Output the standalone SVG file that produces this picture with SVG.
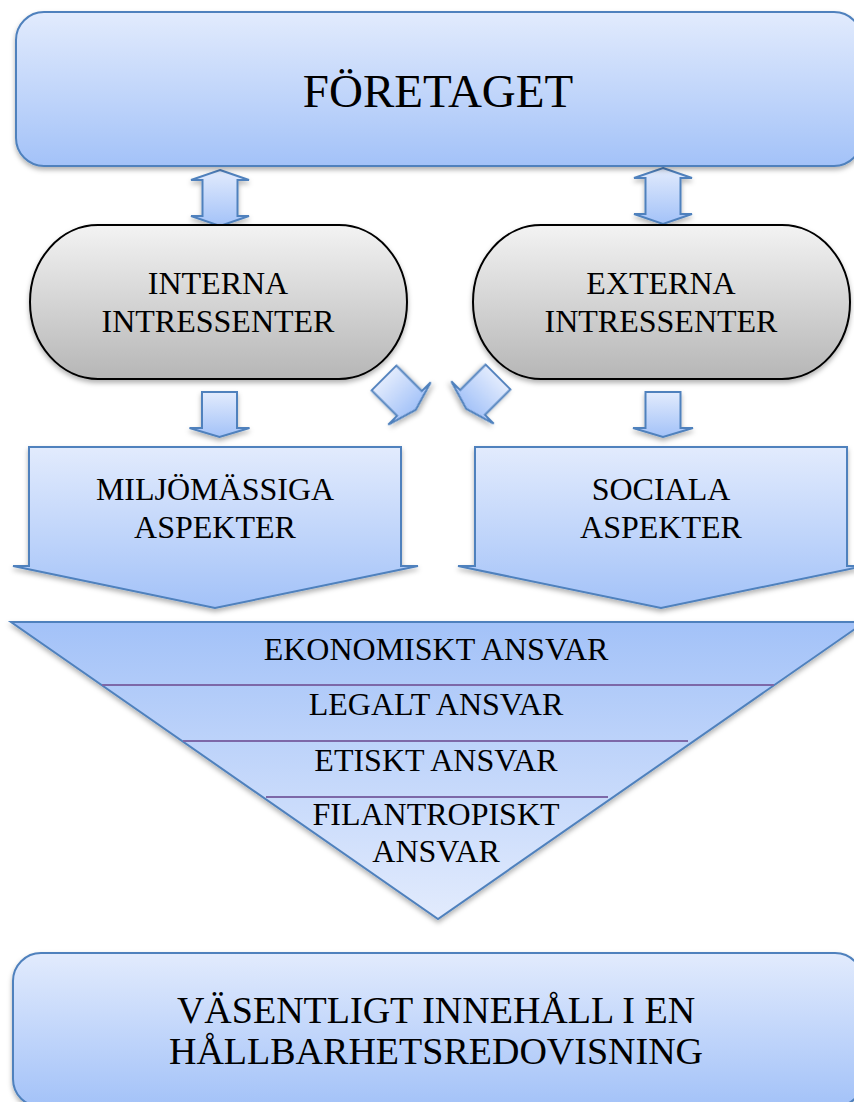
<svg xmlns="http://www.w3.org/2000/svg" width="854" height="1102" viewBox="0 0 854 1102">
  <defs>
    <linearGradient id="gBlue" x1="0" y1="0" x2="0" y2="1">
      <stop offset="0" stop-color="#e2ebfd"/>
      <stop offset="1" stop-color="#a3c2f8"/>
    </linearGradient>
    <linearGradient id="gBlueUp" x1="0" y1="0" x2="0" y2="1">
      <stop offset="0" stop-color="#a3c2f8"/>
      <stop offset="1" stop-color="#e2ebfd"/>
    </linearGradient>
    <linearGradient id="gGray" x1="0" y1="0" x2="0" y2="1">
      <stop offset="0" stop-color="#f3f3f3"/>
      <stop offset="1" stop-color="#b6b6b6"/>
    </linearGradient>
    <filter id="shadow" x="-10%" y="-10%" width="120%" height="130%">
      <feDropShadow dx="0" dy="3" stdDeviation="2.5" flood-color="#000" flood-opacity="0.3"/>
    </filter>
    <path id="downArrow" d="M-17.5,0 H17.5 V36 H30 L0,45 L-30,36 H-17.5 Z"/>
  </defs>
  <style>
    .blue { fill: url(#gBlue); stroke: #4f81bd; stroke-width: 2; filter: url(#shadow); }
    .tri { fill: url(#gBlueUp); stroke: #4f81bd; stroke-width: 2; filter: url(#shadow); }
    .gray { fill: url(#gGray); stroke: #000; stroke-width: 2; filter: url(#shadow); }
    .arrow { fill: url(#gBlue); stroke: #4f81bd; stroke-width: 2; filter: url(#shadow); }
    .sep { stroke: #7d68a8; stroke-width: 2; }
    text { font-family: "Liberation Serif", "Times New Roman", serif; fill: #000; text-anchor: middle; }
    .t32 { font-size: 32px; }
    .t47 { font-size: 47px; }
    .t38 { font-size: 38px; }
  </style>

  <g id="connectors">
    <path class="arrow" d="M220,170 L249,180 L237.5,180 L237.5,216 L249,216 L220,226 L191,216 L202.5,216 L202.5,180 L191,180 Z"/>
    <path class="arrow" d="M663,168 L692,178 L680.5,178 L680.5,214 L692,214 L663,224 L634,214 L645.5,214 L645.5,178 L634,178 Z"/>
    <use href="#downArrow" class="arrow" transform="translate(219.5,392)"/>
    <use href="#downArrow" class="arrow" transform="translate(663,392)"/>
    <use href="#downArrow" class="arrow" transform="translate(384,378) rotate(-45)"/>
    <use href="#downArrow" class="arrow" transform="translate(498,377) rotate(45)"/>
  </g>

  <g id="foretaget">
    <rect class="blue" x="16" y="12" width="846" height="154" rx="28" ry="28"/>
    <text class="t47" x="438" y="107">FÖRETAGET</text>
  </g>

  <g id="interna">
    <rect class="gray" x="30" y="225" width="377" height="154" rx="68" ry="77"/>
    <text class="t32" x="218" y="294">INTERNA</text>
    <text class="t32" x="218" y="332">INTRESSENTER</text>
  </g>

  <g id="externa">
    <rect class="gray" x="473" y="225" width="377" height="154" rx="68" ry="77"/>
    <text class="t32" x="661" y="294">EXTERNA</text>
    <text class="t32" x="661" y="332">INTRESSENTER</text>
  </g>

  <g id="miljo">
    <path class="blue" d="M29,447 H401 V566 H418 L215,608 L13,566 H29 Z"/>
    <text class="t32" x="215" y="500">MILJÖMÄSSIGA</text>
    <text class="t32" x="215" y="538">ASPEKTER</text>
  </g>

  <g id="sociala">
    <path class="blue" d="M475,447 H847 V566 H864 L661,608 L458,566 H475 Z"/>
    <text class="t32" x="661" y="500">SOCIALA</text>
    <text class="t32" x="661" y="538">ASPEKTER</text>
  </g>

  <g id="ansvar">
    <path class="tri" d="M11,622 H865 L438,919 Z"/>
    <line class="sep" x1="102" y1="685" x2="774" y2="685"/>
    <line class="sep" x1="183" y1="741" x2="688" y2="741"/>
    <line class="sep" x1="266" y1="797" x2="608" y2="797"/>
    <text class="t32" x="436" y="660">EKONOMISKT ANSVAR</text>
    <text class="t32" x="436" y="715">LEGALT ANSVAR</text>
    <text class="t32" x="436" y="771">ETISKT ANSVAR</text>
    <text class="t32" x="436" y="825">FILANTROPISKT</text>
    <text class="t32" x="436" y="862">ANSVAR</text>
  </g>

  <g id="vasentligt">
    <rect class="blue" x="13" y="953" width="850" height="154" rx="28" ry="28"/>
    <text class="t38" x="436" y="1023">VÄSENTLIGT INNEHÅLL I EN</text>
    <text class="t38" x="436" y="1064">HÅLLBARHETSREDOVISNING</text>
  </g>
</svg>
